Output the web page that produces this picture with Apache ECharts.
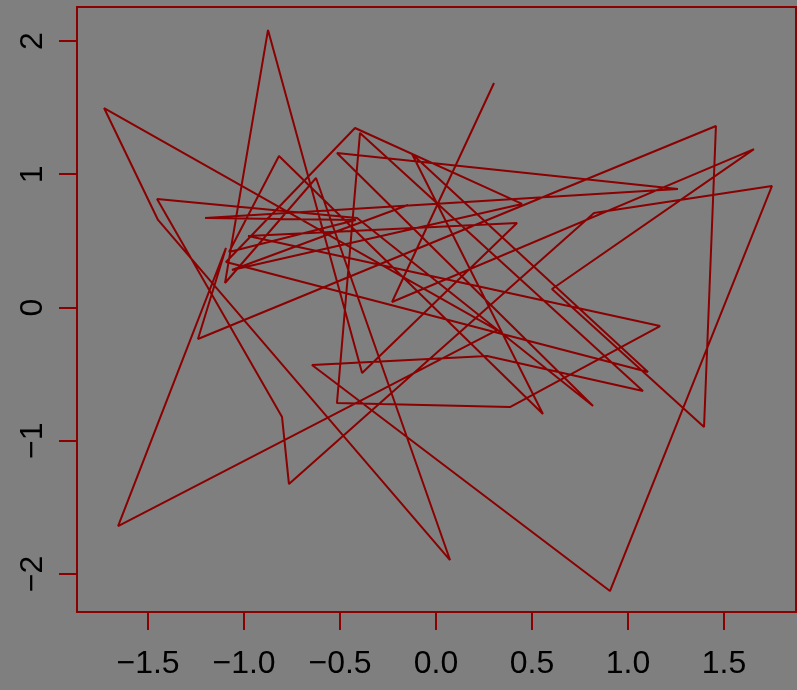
<!DOCTYPE html>
<html><head><meta charset="utf-8">
<script src="https://cdn.jsdelivr.net/npm/echarts@6/dist/echarts.min.js"></script>
<style>html,body{margin:0;padding:0;background:#7F7F7F}#c{width:797px;height:690px}</style>
</head><body><div id="c"></div>
<script>
const xs = [0.302,-0.229,1.656,0.604,1.396,1.458,-1.240,-1.094,-1.656,0.318,-1.729,-1.448,0.073,-0.625,-1.099,-0.875,-0.385,0.422,-0.979,1.167,0.385,-0.516,-0.396,1.078,0.266,-0.646,0.906,1.750,0.823,-0.766,-0.802,-1.453,-0.411,0.818,-0.516,1.260,-1.203,-0.417,-1.078,-0.818,0.557,-0.125,1.104,-1.094,-0.422,0.448,-1.063,-0.146];
const ys = [1.685,0.041,1.189,0.139,-0.897,1.362,-0.236,0.447,-1.640,-0.169,1.497,0.657,-1.895,0.972,0.184,2.083,-0.492,0.634,0.537,-0.139,-0.747,-0.717,1.310,-0.627,-0.364,-0.432,-2.128,0.912,0.709,-1.325,-0.822,0.814,0.672,-0.739,1.159,0.889,0.672,0.657,0.416,1.137,-0.799,1.152,-0.484,0.341,1.347,0.777,0.281,0.769];
const xTicks = [-1.5,-1.0,-0.5,0.0,0.5,1.0,1.5];
const yTicks = [-2,-1,0,1,2];
const XMIN = -1.870, XMAX = 1.875, YMIN = -2.285, YMAX = 2.255;
const RED = '#8B0000';
const fmt = d => v => (v < 0 ? '\u2212' : '') + Math.abs(v).toFixed(d);
const chart = echarts.init(document.getElementById('c'), null, {renderer:'canvas'});
chart.setOption({
  backgroundColor:'#7F7F7F',
  animation:false,
  grid:{left:77,right:1,top:7,bottom:78,show:true,borderColor:RED,borderWidth:2,backgroundColor:'transparent'},
  xAxis:{type:'value',min:XMIN,max:XMAX,
    axisLine:{show:false,onZero:false},splitLine:{show:false},
    axisTick:{show:true,customValues:xTicks,length:18,lineStyle:{color:RED,width:2}},
    axisLabel:{customValues:xTicks,formatter:fmt(1),color:'#000',fontSize:32,fontFamily:'Liberation Sans, Arial, sans-serif',margin:36}},
  yAxis:{type:'value',min:YMIN,max:YMAX,
    axisLine:{show:false,onZero:false},splitLine:{show:false},
    axisTick:{show:true,customValues:yTicks,length:18,lineStyle:{color:RED,width:2}},
    axisLabel:{customValues:yTicks,formatter:fmt(0),color:'#000',fontSize:32,rotate:90,fontFamily:'Liberation Sans, Arial, sans-serif',margin:28}},
  series:[{type:'line',data:xs.map((x,i)=>[x,ys[i]]),symbol:'none',showSymbol:false,lineStyle:{color:RED,width:2},z:3}]
});
</script></body></html>
